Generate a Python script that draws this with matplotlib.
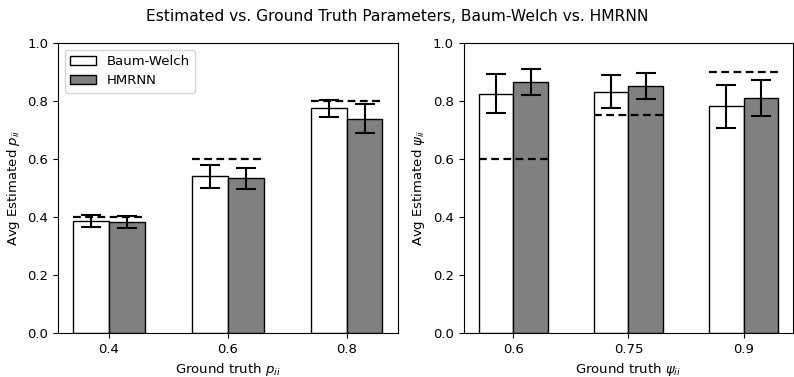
import matplotlib
matplotlib.use("Agg")
import matplotlib.pyplot as plt
import numpy as np

# left panel: transition probabilities p_ii
p_truth = [0.4, 0.6, 0.8]
p_labels = ["0.4", "0.6", "0.8"]
p_bw = [0.385, 0.540, 0.775]
p_bw_err = [0.021, 0.040, 0.029]
p_hm = [0.383, 0.533, 0.738]
p_hm_err = [0.021, 0.037, 0.050]

# right panel: emission probabilities psi_ii
psi_truth = [0.6, 0.75, 0.9]
psi_labels = ["0.6", "0.75", "0.9"]
psi_bw = [0.825, 0.832, 0.781]
psi_bw_err = [0.068, 0.057, 0.073]
psi_hm = [0.865, 0.852, 0.809]
psi_hm_err = [0.044, 0.046, 0.062]

plt.rcParams["font.size"] = 9.5

fig = plt.figure(figsize=(7.94, 3.77), dpi=100)
ax1 = fig.add_axes([0.073, 0.117, 0.428, 0.769])
ax2 = fig.add_axes([0.584, 0.117, 0.415, 0.769])

w = 0.3
ekw = dict(elinewidth=1.5, capthick=1.5, ecolor="black")


def panel(ax, truth, labels, bw, bw_err, hm, hm_err, sym, legend):
    x = np.arange(len(truth))
    ax.bar(x - w / 2, bw, w, yerr=bw_err, capsize=7.5, color="white",
           edgecolor="black", linewidth=1, label="Baum-Welch", error_kw=ekw)
    ax.bar(x + w / 2, hm, w, yerr=hm_err, capsize=7.5, color="gray",
           edgecolor="black", linewidth=1, label="HMRNN", error_kw=ekw)
    ax.hlines(truth, x - w, x + w, colors="black", linestyles=(0, (3.5, 2)),
              linewidth=1.6, zorder=5)
    ax.set_xticks(x)
    ax.set_xticklabels(labels)
    ax.set_ylim(0, 1.0)
    ax.set_xlabel("Ground truth $%s_{ii}$" % sym)
    ax.set_ylabel("Avg Estimated $%s_{ii}$" % sym)
    if legend:
        ax.legend(loc="upper left", fontsize=9.5)


panel(ax1, p_truth, p_labels, p_bw, p_bw_err, p_hm, p_hm_err, "p", True)
panel(ax2, psi_truth, psi_labels, psi_bw, psi_bw_err, psi_hm, psi_hm_err,
      "\\psi", False)

fig.suptitle("Estimated vs. Ground Truth Parameters, Baum-Welch vs. HMRNN",
             fontsize=11.2, y=0.975)

fig.savefig("out.png", dpi=100)
